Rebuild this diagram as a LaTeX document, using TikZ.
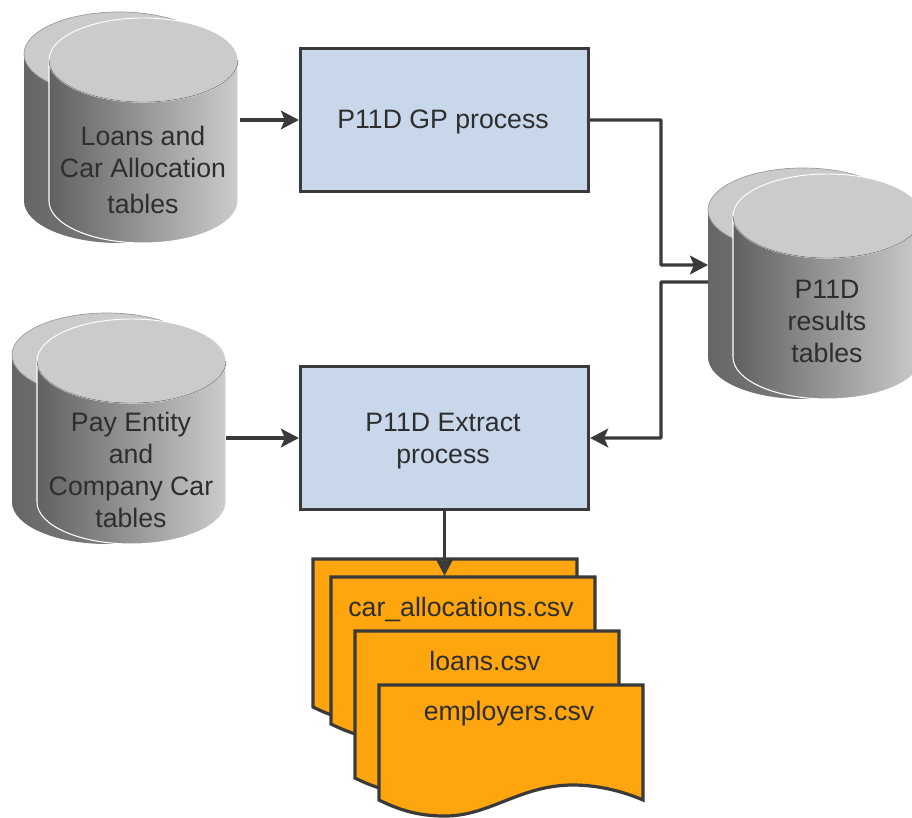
\documentclass[tikz,border=0pt]{standalone}
\usepackage{fontspec}
\setmainfont{Liberation Sans}
\usetikzlibrary{arrows.meta,calc}
\definecolor{inkc}{HTML}{3A3A3A}
\definecolor{textc}{HTML}{2E2E2E}
\definecolor{boxc}{HTML}{C9D7EA}
\definecolor{docc}{HTML}{FFA50D}
\definecolor{topc}{HTML}{CBCBCB}
\tikzset{
  lbl/.style={font=\fontsize{20pt}{24pt}\selectfont,text=textc,align=center,inner sep=0pt},
  procbox/.style={draw=inkc,line width=2.4pt,fill=boxc,minimum width=216pt,minimum height=107pt,inner sep=0pt},
  ghost/.style={inner sep=0pt,outer sep=0pt},
  link/.style={draw=inkc,line width=2.5pt,rounded corners=0.5pt},
  arrowlink/.style={link,-{Stealth[length=13.5pt,width=14pt,inset=3pt]}},
  docpage/.style={draw=inkc,line width=2.4pt,fill=docc,line join=miter},
  backside/.style={left color=black!60,right color=black!42},
  frontside/.style={left color=black!62,right color=black!20},
}
% #1 name, #2 x shift, #3 y shift (px)
\newcommand{\dbstack}[3]{%
  \begin{scope}[shift={(#2,-#3)}]
    \path[backside] (24,-52) -- (24,-201) arc (180:360:95 and 42) -- (214,-52) arc (0:-180:95 and 42) -- cycle;
    \path[fill=topc,draw=black!40,line width=.5pt] (119,-54) ellipse (95 and 42);
    \path[frontside,draw=white,line width=.8pt] (49,-60) -- (49,-201) arc (180:360:94.5 and 42) -- (238,-60) arc (0:-180:94.5 and 42) -- cycle;
    \path[fill=topc,draw=white,line width=.7pt] (143.5,-60) ellipse (94.5 and 42);
    \draw[black!50,line width=.6pt] (238,-60) arc (0:-180:94.5 and 42);
    \node[ghost,minimum width=160.5pt,minimum height=173pt] (#1) at (131,-130) {};
  \end{scope}}
% #1 name, #2 x left, #3 y top, #4 left edge height
\newcommand{\docsheet}[4]{%
  \begin{scope}[shift={(#2,-#3)}]
    \path[docpage] (0,0) -- (264,0) -- (264,-#4) .. controls (241,-#4+10) and (216,-#4+15) .. (194,-#4+15)
      .. controls (141,-#4+15) and (111,-#4-16) .. (66,-#4-16)
      .. controls (46,-#4-16) and (26,-#4-13) .. (0,-#4) -- cycle;
    \node[ghost,minimum width=198pt,minimum height=86pt] (#1) at (132,-#4/2) {};
  \end{scope}}
\begin{document}
\begin{tikzpicture}[x=.75pt,y=.75pt]
\useasboundingbox (0,0) rectangle (912,-817);
\clip (0,0) rectangle (912,-817);
\dbstack{ca}{0}{0}
\dbstack{cb}{-12}{301}
\dbstack{cc}{684}{156}
\node[lbl] (cat) at (143,-170) {Loans and\\Car Allocation\\[3pt]tables};
\node[lbl] (cbt) at (131,-470) {Pay Entity\\and\\Company Car\\tables};
\node[lbl] (cct) at (827,-321) {P11D\\results\\tables};
\node[procbox] (pa) at (444.5,-120) {};
\node[lbl] (pat) at (443,-122) {P11D GP process};
\node[procbox] (pb) at (444.5,-438) {};
\node[lbl] (pbt) at (443,-441) {P11D Extract\\process};
\docsheet{da}{313}{559}{148}
\docsheet{db}{331}{577}{147}
\node[lbl] (dbt) at (461,-609) {car\_allocations.csv};
\docsheet{dc}{355}{631}{147}
\node[lbl] (dct) at (485,-661) {loans.csv};
\docsheet{dd}{379}{685}{115}
\node[lbl] (ddt) at (509,-714) {employers.csv};
\coordinate (ja) at (661,-265);
\coordinate (jb) at (661,-282);
\draw[arrowlink,shorten <=1.5pt] (ca.east |- pa.west) -- (pa.west);
\draw[arrowlink] (cb.east |- pb.west) -- (pb.west);
\draw[arrowlink] (pa.east) -| (ja) -- (cc.west |- ja);
\draw[arrowlink] (cc.west |- jb) -- (jb) |- (pb.east);
\draw[arrowlink] (pb.south) -- (pb.south |- da.north);
\end{tikzpicture}
\end{document}
